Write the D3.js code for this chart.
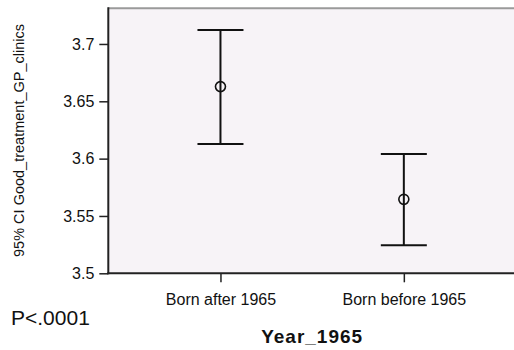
<!DOCTYPE html>
<html><head><meta charset="utf-8">
<script src="https://cdn.jsdelivr.net/npm/d3@7"></script>
<style>body{margin:0;background:#fff}svg{display:block}text{font-family:Arial,"Liberation Sans",sans-serif;fill:#111}</style>
</head><body><div id="c"></div>
<script>
const categories = ["Born after 1965", "Born before 1965"];
const means = [3.6628, 3.5645];
const lowerCI = [3.6128, 3.5244];
const upperCI = [3.7122, 3.6041];
const yTicks = [3.5, 3.55, 3.6, 3.65, 3.7];

const W = 514, H = 350;
const mLeft = 108.3, mRight = 516, mTop = 8.3, mBottom = 273.3;

const svg = d3.select("#c").append("svg").attr("width", W).attr("height", H);

const x = d3.scalePoint().domain(categories).range([mLeft, mRight]).padding(0.6117);
const y = d3.scaleLinear().domain([3.5, 3.7311]).range([mBottom, mTop]);

// plot background
svg.append("rect").attr("x", mLeft).attr("y", mTop).attr("width", mRight - mLeft).attr("height", mBottom - mTop)
  .attr("fill", "#f7f3f7");
// top border
svg.append("line").attr("x1", mLeft).attr("x2", mRight).attr("y1", mTop).attr("y2", mTop)
  .attr("stroke", "#9a9a9a").attr("stroke-width", 2);

// y axis
const ya = svg.append("g").attr("transform", `translate(${mLeft},0)`)
  .call(d3.axisLeft(y).tickValues(yTicks).tickSize(9).tickPadding(5).tickFormat(d => d3.format("")(d)));
ya.select(".domain").remove();
ya.selectAll(".tick line").attr("stroke", "#222").attr("stroke-width", 1.5);
ya.selectAll(".tick text").attr("font-size", 16).attr("fill", "#222").style("font-family", "Arial, 'Liberation Sans', sans-serif");
svg.append("line").attr("x1", mLeft).attr("x2", mLeft).attr("y1", mTop - 1).attr("y2", mBottom + 1)
  .attr("stroke", "#222").attr("stroke-width", 2);

// x axis
const xa = svg.append("g").attr("transform", `translate(0,${mBottom})`)
  .call(d3.axisBottom(x).tickSize(9).tickPadding(11));
xa.select(".domain").remove();
xa.selectAll(".tick line").attr("stroke", "#222").attr("stroke-width", 1.5);
xa.selectAll(".tick text").attr("font-size", 16).attr("fill", "#222").style("font-family", "Arial, 'Liberation Sans', sans-serif");
svg.append("line").attr("x1", mLeft - 1).attr("x2", mRight).attr("y1", mBottom).attr("y2", mBottom)
  .attr("stroke", "#222").attr("stroke-width", 2);

// error bars
const data = categories.map((c, i) => ({c, m: means[i], lo: lowerCI[i], hi: upperCI[i]}));
const g = svg.append("g");
const capW = 23;
data.forEach(d => {
  const cx = x(d.c);
  g.append("line").attr("x1", cx).attr("x2", cx).attr("y1", y(d.hi)).attr("y2", y(d.lo))
    .attr("stroke", "#111").attr("stroke-width", 2);
  [d.hi, d.lo].forEach(v => g.append("line").attr("x1", cx - capW).attr("x2", cx + capW)
    .attr("y1", y(v)).attr("y2", y(v)).attr("stroke", "#111").attr("stroke-width", 2));
  g.append("circle").attr("cx", cx).attr("cy", y(d.m)).attr("r", 5)
    .attr("fill", "none").attr("stroke", "#111").attr("stroke-width", 1.6);
});

// y label
svg.append("text").attr("transform", `translate(24,140.5) rotate(-90)`).attr("text-anchor", "middle")
  .attr("font-size", 14.5).attr("fill", "#222").text("95% CI Good_treatment_GP_clinics");

// x title
svg.append("text").attr("x", (mLeft + mRight) / 2).attr("y", 343).attr("text-anchor", "middle")
  .attr("font-size", 19).attr("font-weight", "bold").attr("letter-spacing", 1).text("Year_1965");

// P value
svg.append("text").attr("x", 11).attr("y", 325).attr("font-size", 21).text("P<.0001");
</script></body></html>
